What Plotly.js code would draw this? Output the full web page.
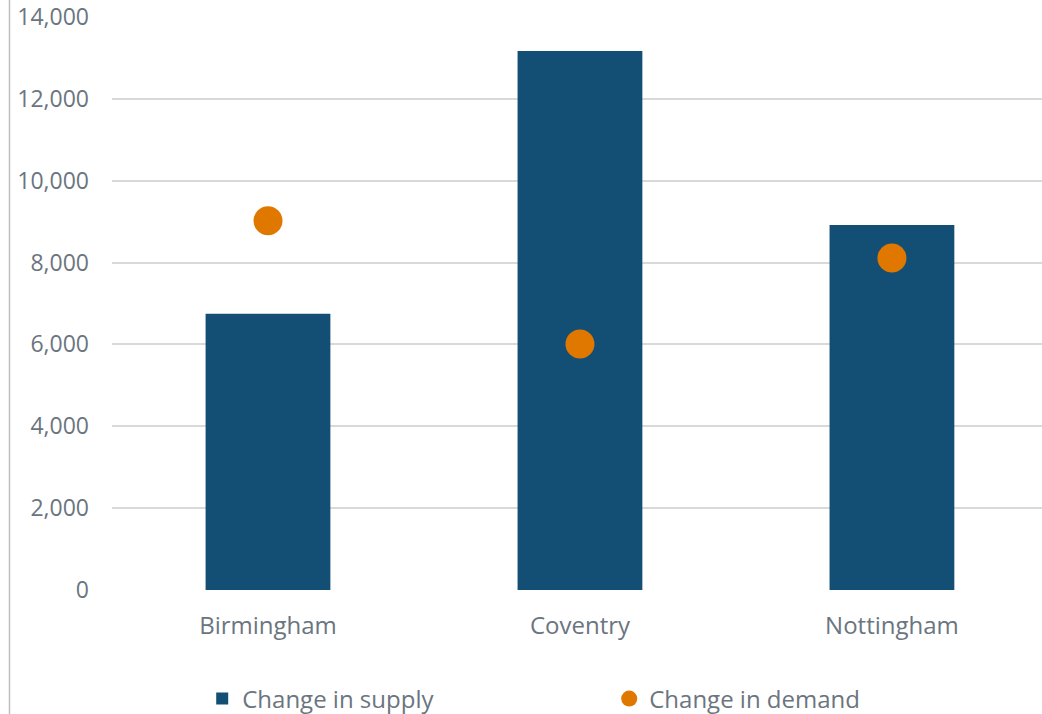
<!DOCTYPE html>
<html>
<head>
<meta charset="utf-8">
<script src="https://cdn.plot.ly/plotly-3.0.1.min.js"></script>
<style>html,body{margin:0;padding:0;background:#fff;}#chart{width:1042px;height:714px;}</style>
</head>
<body>
<div id="chart"></div>
<script>
const categories = ["Birmingham", "Coventry", "Nottingham"];
const supply = [6750, 13170, 8920];
const demand = [9020, 6010, 8110];
const yTickVals = [0, 2000, 4000, 6000, 8000, 10000, 12000, 14000];
const yTickText = ["0", "2,000", "4,000", "6,000", "8,000", "10,000", "12,000", "14,000"];

const textColor = "#6b7580";
const fam = "Open Sans, Noto Sans, sans-serif";
const font = {family: fam, size: 24, color: textColor};
const yfont = {family: fam, size: 23, color: textColor};

const traces = [
  {type: "bar", x: categories, y: supply, name: "Change in supply",
   marker: {color: "#134f74"}, hoverinfo: "skip"},
  {type: "scatter", mode: "markers", x: categories, y: demand, name: "Change in demand",
   marker: {color: "#e07800", size: 29}, hoverinfo: "skip"}
];

const layout = {
  width: 1042, height: 714,
  margin: {l: 112, r: 0, t: 17, b: 124, autoexpand: false},
  paper_bgcolor: "#fff", plot_bgcolor: "#fff",
  font: font,
  bargap: 0.6,
  showlegend: true,
  legend: {orientation: "h", x: 0.097, xanchor: "left", y: -0.151, yanchor: "top",
           font: font, entrywidth: 362, traceorder: "normal"},
  xaxis: {type: "category", range: [-0.5, 2.481], showgrid: false, showline: false,
          zeroline: false, ticks: "", ticklabelstandoff: 19, tickfont: font},
  yaxis: {range: [0, 14000], tickvals: yTickVals, ticktext: yTickText,
          showgrid: true, gridcolor: "#d9d9d9", gridwidth: 2, zeroline: false,
          showline: false, ticks: "", ticklabelstandoff: 22, tickfont: yfont},
  shapes: [{type: "line", xref: "paper", yref: "paper",
            x0: (9.5 - 112) / 930, x1: (9.5 - 112) / 930, y0: -0.3, y1: 1.05,
            line: {color: "#bfbfbf", width: 1.5}}]
};

Plotly.newPlot("chart", traces, layout, {staticPlot: true});
</script>
</body>
</html>
